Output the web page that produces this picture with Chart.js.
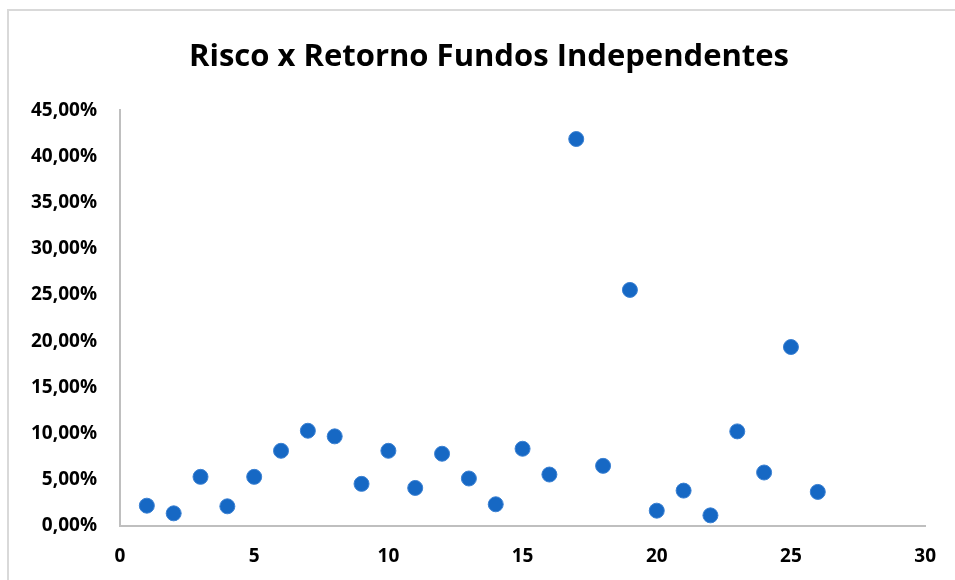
<!DOCTYPE html>
<html lang="pt">
<head>
    <meta charset="UTF-8">
    <title>Risco x Retorno Fundos Independentes</title>
    <script src="https://cdn.jsdelivr.net/npm/chart.js"></script>
    <style>
        html, body { margin: 0; padding: 0; background: #fff; }
        #wrap { width: 955px; height: 580px; }
    </style>
</head>
<body>
    <div id="wrap"><canvas id="scatter" width="955" height="580"></canvas></div>

    <script>
        // fundos (eixo x) e retorno (eixo y)
        const fundos = [1, 2, 3, 4, 5, 6, 7, 8, 9, 10, 11, 12, 13, 14, 15, 16, 17, 18, 19, 20, 21, 22, 23, 24, 25, 26];
        const retornos = [0.022, 0.0137, 0.0532, 0.0213, 0.0532, 0.0814, 0.1031, 0.097, 0.0456, 0.0814, 0.0412, 0.0782, 0.0514,
                          0.0235, 0.0836, 0.0557, 0.4188, 0.0651, 0.2555, 0.0166, 0.0383, 0.0115, 0.1024, 0.0579, 0.1937, 0.0369];
        const xTicks = [0, 5, 10, 15, 20, 25, 30];
        const yTicks = [0, 0.05, 0.10, 0.15, 0.20, 0.25, 0.30, 0.35, 0.40, 0.45];

        const pontos = fundos.map((f, i) => ({ x: f, y: retornos[i] }));

        const fonte = "'Open Sans', Lato, sans-serif";

        // moldura cinza do gráfico (borda superior e esquerda)
        const moldura = {
            id: 'moldura',
            afterLayout(chart) {
                // o título fica um pouco à direita do centro, como no Excel
                chart.titleBlock.left += 20;
                chart.titleBlock.right += 20;
            },
            beforeDraw(chart) {
                const ctx = chart.ctx;
                ctx.save();
                ctx.strokeStyle = '#d9d9d9';
                ctx.lineWidth = 2;
                ctx.beginPath();
                ctx.moveTo(8, 580);
                ctx.lineTo(8, 10);
                ctx.lineTo(955, 10);
                ctx.stroke();
                ctx.restore();
            }
        };

        const ctx = document.getElementById('scatter').getContext('2d');
        const chart = new Chart(ctx, {
            type: 'scatter',
            data: {
                datasets: [{
                    label: 'Retorno',
                    data: pontos,
                    backgroundColor: '#1668c4',
                    borderColor: '#3a80d2',
                    borderWidth: 1,
                    pointRadius: 7.5,
                    pointHoverRadius: 7.5
                }]
            },
            options: {
                responsive: false,
                animation: false,
                layout: { padding: { top: 0, right: 17, bottom: 0, left: 0 } },
                plugins: {
                    legend: { display: false },
                    tooltip: { enabled: false },
                    title: {
                        display: true,
                        text: 'Risco x Retorno Fundos Independentes',
                        color: '#000',
                        font: { family: fonte, size: 31, weight: 'bold', lineHeight: 1.2 },
                        padding: { top: 39, bottom: 34 }
                    }
                },
                scales: {
                    x: {
                        type: 'linear',
                        min: xTicks[0],
                        max: xTicks[xTicks.length - 1],
                        afterBuildTicks: s => { s.ticks = xTicks.map(v => ({ value: v })); },
                        afterFit: s => { s.height = 54; },
                        grid: { display: false, drawTicks: false },
                        border: { display: true, color: '#bfbfbf', width: 2 },
                        ticks: {
                            color: '#000',
                            padding: 19,
                            font: { family: fonte, size: 19, weight: 'bold' },
                            maxRotation: 0
                        }
                    },
                    y: {
                        type: 'linear',
                        min: yTicks[0],
                        max: yTicks[yTicks.length - 1],
                        afterBuildTicks: s => { s.ticks = yTicks.map(v => ({ value: v })); },
                        afterFit: s => { s.width = 120; },
                        grid: { display: false, drawTicks: false },
                        border: { display: true, color: '#bfbfbf', width: 2 },
                        ticks: {
                            color: '#000',
                            padding: 23,
                            font: { family: fonte, size: 19, weight: 'bold' },
                            callback: v => (v * 100).toFixed(2).replace('.', ',') + '%'
                        }
                    }
                }
            },
            plugins: [moldura]
        });
    </script>
</body>
</html>
